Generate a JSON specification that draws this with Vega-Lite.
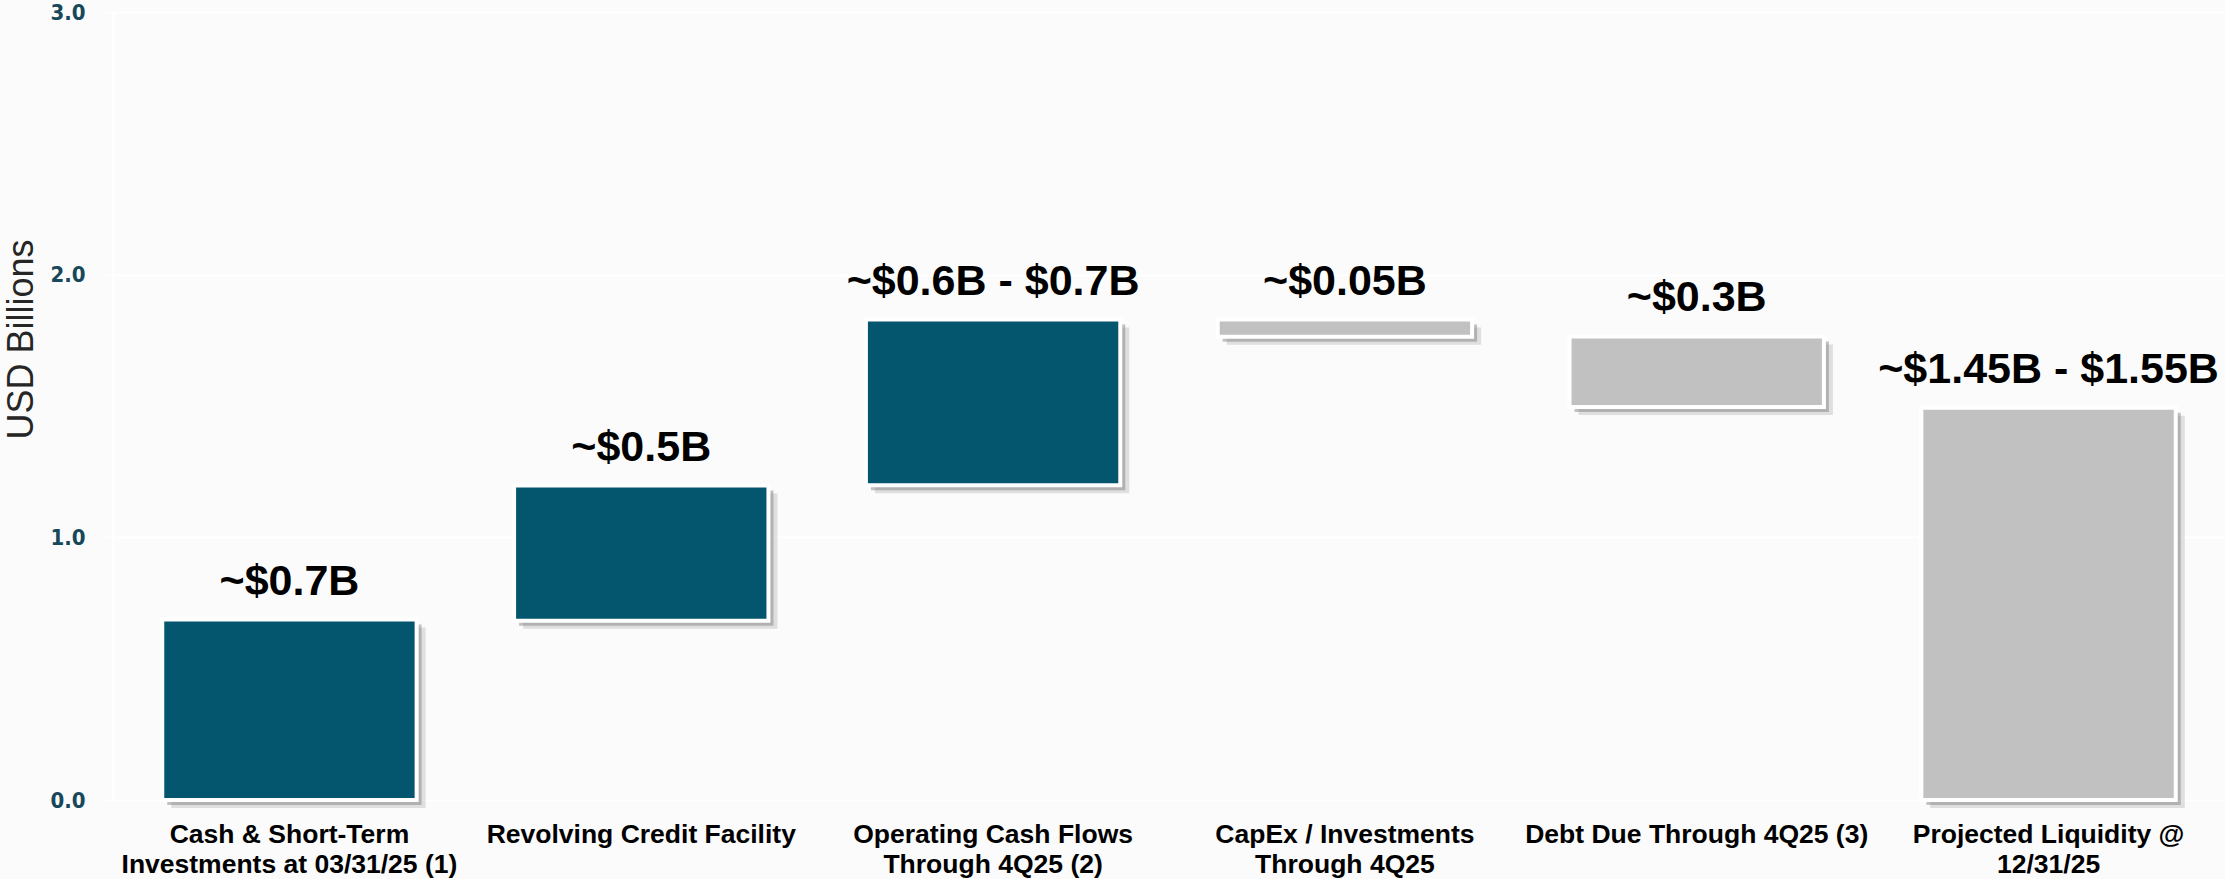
{
  "$schema": "https://vega.github.io/schema/vega-lite/v6.json",
  "width": 2112,
  "height": 788,
  "autosize": {"type": "none"},
  "padding": {"left": 113, "top": 12, "right": 0, "bottom": 79},
  "background": "#fbfbfb",
  "config": {"view": {"stroke": null}},
  "data": {
    "values": [
      {"cat": "Cash & Short-Term|Investments at 03/31/25 (1)", "start": 0, "end": 0.687, "label": "~$0.7B", "kind": "increase"},
      {"cat": "Revolving Credit Facility", "start": 0.682, "end": 1.197, "label": "~$0.5B", "kind": "increase"},
      {"cat": "Operating Cash Flows|Through 4Q25 (2)", "start": 1.198, "end": 1.829, "label": "~$0.6B - $0.7B", "kind": "increase"},
      {"cat": "CapEx / Investments|Through 4Q25", "start": 1.764, "end": 1.829, "label": "~$0.05B", "kind": "decrease"},
      {"cat": "Debt Due Through 4Q25 (3)", "start": 1.496, "end": 1.765, "label": "~$0.3B", "kind": "decrease"},
      {"cat": "Projected Liquidity @|12/31/25", "start": 0, "end": 1.493, "label": "~$1.45B - $1.55B", "kind": "total"}
    ]
  },
  "encoding": {
    "x": {
      "field": "cat",
      "type": "nominal",
      "sort": null,
      "scale": {"paddingInner": 0.277, "paddingOuter": 0.14},
      "axis": {
        "title": null,
        "labelAngle": 0,
        "labelExpr": "split(datum.value, '|')",
        "labelFont": "Liberation Sans",
        "labelFontWeight": "bold",
        "labelFontSize": 26.5,
        "labelColor": "#000000",
        "labelLineHeight": 30,
        "labelPadding": 21,
        "ticks": false,
        "tickSize": 0,
        "domain": false,
        "labelLimit": 400
      }
    }
  },
  "layer": [
    {
      "mark": {"type": "bar", "color": "#8a8a8a", "opacity": 0.25, "xOffset": 9, "x2Offset": 9, "yOffset": 8, "y2Offset": 8},
      "encoding": {
        "y": {
          "field": "end",
          "type": "quantitative",
          "scale": {"domain": [0, 3], "nice": false},
          "axis": {
            "values": [0, 1, 2, 3],
            "format": ".1f",
            "labelFont": "DejaVu Sans Condensed, DejaVu Sans",
            "labelFontWeight": "bold",
            "labelFontSize": 22,
            "labelColor": "#17475a",
            "labelPadding": 20,
            "tickSize": 8,
            "tickColor": "#ffffff",
            "tickWidth": 2,
            "domainColor": "#ffffff",
            "domainWidth": 2,
            "grid": true,
            "gridColor": "#ffffff",
            "gridWidth": 2,
            "title": "USD Billions",
            "titleFont": "Liberation Sans",
            "titleFontSize": 36,
            "titleFontWeight": "normal",
            "titleColor": "#262626",
            "titleX": -81,
            "titleY": 327,
            "titleAlign": "center",
            "titleBaseline": "alphabetic",
            "titleAngle": -90
          }
        },
        "y2": {"field": "start"}
      }
    },
    {
      "mark": {"type": "bar", "color": "#7a7a7a", "opacity": 0.45, "xOffset": 5, "x2Offset": 5, "yOffset": 5, "y2Offset": 5},
      "encoding": {
        "y": {"field": "end", "type": "quantitative"},
        "y2": {"field": "start"}
      }
    },
    {
      "mark": {"type": "bar", "stroke": "#ffffff", "strokeWidth": 4},
      "encoding": {
        "y": {"field": "end", "type": "quantitative"},
        "y2": {"field": "start"},
        "color": {
          "field": "kind",
          "type": "nominal",
          "scale": {"domain": ["increase", "decrease", "total"], "range": ["#04566e", "#c1c1c1", "#c1c1c1"]},
          "legend": null
        }
      }
    },
    {
      "mark": {"type": "text", "font": "Liberation Sans", "fontWeight": "bold", "fontSize": 43, "color": "#000000", "baseline": "alphabetic", "dy": -25},
      "encoding": {
        "y": {"field": "end", "type": "quantitative"},
        "text": {"field": "label"}
      }
    }
  ]
}
